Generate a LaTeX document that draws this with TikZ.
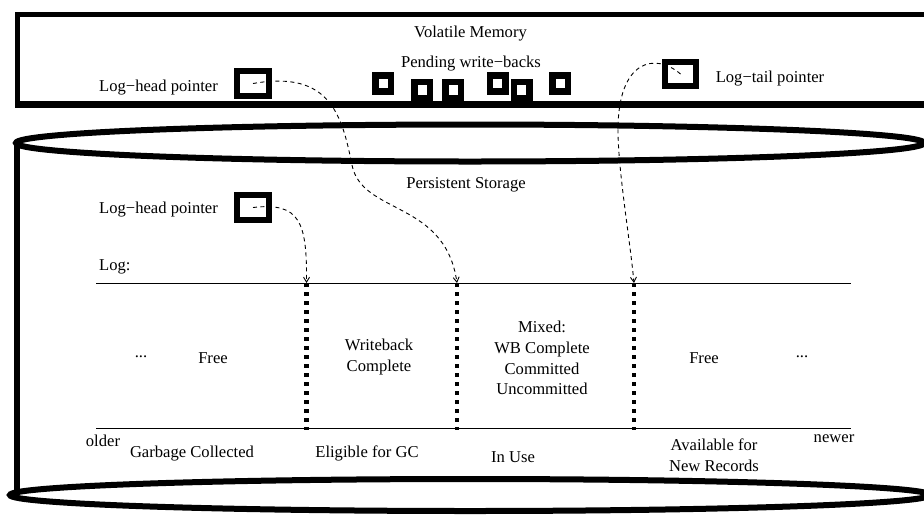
\documentclass[tikz,border=0pt]{standalone}
\usepackage{fontspec}
\setmainfont{Liberation Serif}
\usetikzlibrary{arrows.meta}
\begin{document}
\begin{tikzpicture}[x=1pt,y=-1pt,
  lbl/.style={font=\fontsize{16.6}{20.8}\selectfont, inner sep=0pt, anchor=base},
  mlbl/.style={font=\fontsize{16.6}{20.8}\selectfont, inner sep=0pt, align=center},
  ptrbox/.style={draw, line width=6pt, minimum width=32pt, minimum height=25pt, inner sep=0pt},
  pendbox/.style={draw, line width=6.5pt, minimum width=15.5pt, minimum height=16pt, inner sep=0pt},
  shell/.style={line width=6pt},
  logline/.style={line width=1pt},
  divider/.style={line width=4.7pt, dash pattern=on 4pt off 5pt},
  ptrlink/.style={line width=0.9pt, dash pattern=on 4pt off 3.5pt,
    -{Straight Barb[length=5pt,width=6pt]}}
]
\useasboundingbox (0,0) rectangle (924,515);
\clip (0,0) rectangle (924,515);

% volatile memory region
\draw[line width=5pt] (17.5,14) rectangle (940,104);
\draw[line width=7pt] (15,104) -- (940,104);
\node[lbl] (vm) at (470.5,37) {Volatile Memory};
\node[lbl] (pw) at (471,67) {Pending write−backs};
\node[lbl] (vhl) at (158.5,91) {Log−head pointer};
\node[lbl] (vtl) at (770,82) {Log−tail pointer};
\node[ptrbox] (vh) at (253,83.5) {};
\node[ptrbox, minimum width=31pt, minimum height=24pt] (vt) at (680.5,74) {};

% pending write-backs
\node[pendbox] (p1) at (383,83.5) {};
\node[pendbox] (p2) at (422,90) {};
\node[pendbox] (p3) at (453,90) {};
\node[pendbox] (p4) at (497.5,83.5) {};
\node[pendbox] (p5) at (521.5,90) {};
\node[pendbox] (p6) at (560,83.5) {};

% persistent storage cylinder
\draw[shell] (470,143) ellipse [x radius=454pt, y radius=18.5pt];
\draw[shell] (17,143) -- (17,492);
\draw[shell] (470,495) ellipse [x radius=460pt, y radius=16pt];
\node[lbl] (ps) at (466,188) {Persistent Storage};
\node[lbl] (phl) at (158.5,213) {Log−head pointer};
\node[ptrbox] (ph) at (253,207.5) {};
\node[lbl, anchor=base west] (logl) at (99,270) {Log:};

% the log
\coordinate (ltl) at (96,283);
\coordinate (ltr) at (851,283);
\coordinate (lbl) at (96,428);
\coordinate (lbr) at (851,428);
\draw[logline] (ltl) -- (ltr);
\draw[logline] (lbl) -- (lbr);

\coordinate (d1) at (306.5,283);
\coordinate (d2) at (457,283);
\coordinate (d3) at (634,283);
\coordinate (d1b) at (306.5,430);
\coordinate (d2b) at (457,430);
\coordinate (d3b) at (634,430);
\draw[divider] (d1) -- (d1b);
\draw[divider] (d2) -- (d2b);
\draw[divider] (d3) -- (d3b);

% region contents
\node[lbl] (dl) at (141,357) {...};
\node[lbl] (fl) at (213,363) {Free};
\node[mlbl] (wb) at (379,357) {Writeback\\Complete};
\node[mlbl] (mx) at (542,358) {Mixed:\\WB Complete\\Committed\\Uncommitted};
\node[lbl] (fr) at (704,363) {Free};
\node[lbl] (dr) at (802,357) {...};

% region captions
\node[lbl] (old) at (103,446) {older};
\node[lbl] (gc) at (192,457) {Garbage Collected};
\node[lbl] (eg) at (367,457) {Eligible for GC};
\node[lbl] (iu) at (513,462) {In Use};
\node[mlbl] (av) at (714,455) {Available for\\New Records};
\node[lbl] (nw) at (834,442) {newer};

% pointers into the log
\draw[ptrlink] (vh.center) .. controls (330,70) and (342,115) .. (352,165)
  .. controls (362,215) and (445,200) .. (d2);
\draw[ptrlink] (ph.center) .. controls (300,202) and (307,222) .. (d1);
\draw[ptrlink] (vt.center) .. controls (655,52) and (618,60) .. (618,130)
  .. controls (618,170) and (630,240) .. (d3);
\end{tikzpicture}
\end{document}
